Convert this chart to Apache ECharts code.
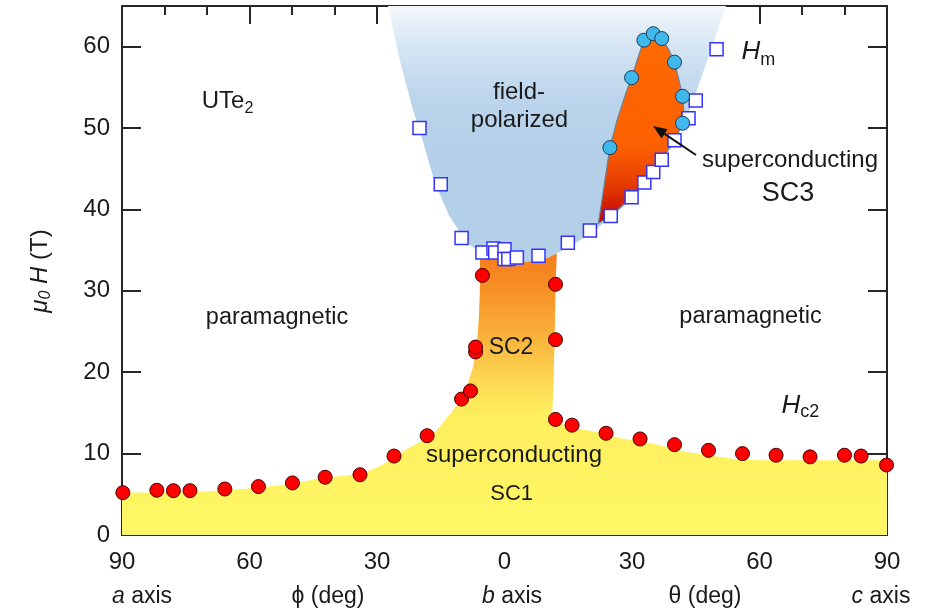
<!DOCTYPE html>
<html>
<head>
<meta charset="utf-8">
<script src="https://cdn.jsdelivr.net/npm/echarts@6/dist/echarts.min.js"></script>
<style>
  html, body { margin: 0; padding: 0; background: #ffffff; }
  #chart { width: 942px; height: 616px; }
</style>
</head>
<body>
<div id="chart"></div>
<script>
// Field angle: negative values = phi (b toward a), positive values = theta (b toward c)

// Upper critical field Hc2 (red circles)
const hc2Angle = [-89.8, -81.8, -77.9, -74.0, -65.8, -57.9, -49.9, -42.2, -34.0, -26.0, -18.2, -10.1, -8.0, -6.8, -6.8, -5.2,
                  12.0, 12.0, 12.0, 15.9, 23.9, 31.9, 40.0, 48.0, 56.0, 63.9, 71.9, 80.0, 83.9, 89.9];
const hc2Field = [5.2, 5.5, 5.45, 5.45, 5.65, 5.95, 6.4, 7.1, 7.4, 9.7, 12.2, 16.7, 17.7, 22.5, 23.1, 31.9,
                  30.8, 24.0, 14.2, 13.5, 12.5, 11.8, 11.1, 10.4, 10.0, 9.8, 9.6, 9.8, 9.7, 8.6];

// Metamagnetic transition Hm (open squares)
const hmAngle = [-20.0, -15.0, -10.1, -5.2, -2.6, -2.2, 0.0, 0.0, 0.9, 2.9, 8.0, 14.9, 20.1, 25.0, 29.9, 32.9,
                 35.0, 37.0, 40.0, 43.3, 45.0, 49.9];
const hmField = [50.0, 43.1, 36.5, 34.7, 35.2, 34.7, 35.1, 33.9, 33.9, 34.1, 34.3, 35.9, 37.4, 39.2, 41.5, 43.3,
                 44.6, 46.1, 48.5, 51.2, 53.4, 59.7];

// Upper boundary of SC3 (cyan circles)
const sc3Angle = [24.8, 29.9, 32.8, 35.0, 37.0, 40.0, 41.9, 41.9];
const sc3Field = [47.6, 56.2, 60.8, 61.6, 61.0, 58.1, 53.9, 50.6];

// Phase regions (outlines)
const scLowAngle = [-90, -90, -80, -72, -60, -50, -43, -34, -30, -26, -23.8, -18, -16, -13.6, -10.4, -9, -7.3, -6.4, -6, -5.8, -5.8,
                    12.3, 12.0, 11.8, 11.5, 11.2, 11.5, 15.8, 23.2, 27.2, 35, 42.9, 48, 54.6, 60, 90, 90];
const scLowField = [0, 5.2, 5.25, 5.3, 5.7, 6.3, 7.0, 7.5, 8.3, 9.4, 10.3, 12.0, 12.8, 14.4, 16.4, 18.0, 20.8, 24, 27, 30, 34.6,
                    34.6, 30, 24, 18, 14.7, 14.0, 13.2, 12.5, 11.9, 11.2, 10.2, 9.8, 9.3, 9.2, 9.2, 0];

const polarizedAngle = [-27.4, -24.5, -21.5, -19.0, -16.4, -13.0, -9.0, -5.0, 0, 5, 10, 15, 20, 25, 30, 35, 40, 42.8, 44.8, 48.5, 52.1];
const polarizedField = [65, 58, 52.2, 48, 43.3, 39.2, 36.0, 34.4, 33.6, 33.5, 34.0, 35.3, 37.0, 39.0, 41.3, 44.3, 48.3, 51.0, 54.0, 59.5, 65];

const sc3RegionAngle = [22.1, 23.4, 24.8, 26.5, 28.5, 29.9, 31.5, 32.8, 35.0, 37.0, 38.5, 40.0, 41.0, 41.9, 42.2, 41.9, 40.5,
                        37.0, 35.0, 32.9, 29.9, 25.0];
const sc3RegionField = [38.3, 42.8, 47.6, 51.0, 54.2, 56.2, 58.8, 60.8, 61.6, 61.0, 59.8, 58.1, 56.0, 53.9, 52.0, 50.6, 49.0,
                        46.1, 44.6, 43.3, 41.5, 39.2];

// Tick labels
const xTickValues = [-90, -60, -30, 0, 30, 60, 90];
const xTickLabels = ['90', '60', '30', '0', '30', '60', '90'];
const yTickValues = [0, 10, 20, 30, 40, 50, 60];
const yTickLabels = ['0', '10', '20', '30', '40', '50', '60'];

const FONT = '"Liberation Sans", Arial, Helvetica, sans-serif';
const INK = '#1a1a1a';
const AXIS = '#262626';

const chart = echarts.init(document.getElementById('chart'), null, { renderer: 'canvas' });
const G = echarts.graphic;

function pairs(xs, ys) { return xs.map((x, i) => [x, ys[i]]); }

function regionSeries(name, xs, ys, fill, stroke) {
  return {
    type: 'custom',
    name: name,
    silent: true,
    animation: false,
    data: [[xs[0], ys[0]]],
    renderItem: function (params, api) {
      const pts = xs.map((x, i) => api.coord([x, ys[i]]));
      return {
        type: 'polygon',
        shape: { points: pts },
        style: { fill: fill, stroke: stroke || null, lineWidth: stroke ? 1.2 : 0 }
      };
    }
  };
}

const scLowFill = new G.LinearGradient(0, 0, 0, 1, [
  { offset: 0.00, color: '#f57c1a' },
  { offset: 0.13, color: '#f79126' },
  { offset: 0.30, color: '#fab33c' },
  { offset: 0.45, color: '#fdd853' },
  { offset: 0.57, color: '#feee5e' },
  { offset: 1.00, color: '#fff866' }
]);
const polarizedFill = new G.LinearGradient(0, 0, 0, 1, [
  { offset: 0.00, color: '#f4f8fc' },
  { offset: 0.16, color: '#d5e5f3' },
  { offset: 0.35, color: '#bdd5ec' },
  { offset: 0.55, color: '#b4d0e9' },
  { offset: 1.00, color: '#b4d0e9' }
]);
const sc3Fill = new G.LinearGradient(0, 0, 0, 1, [
  { offset: 0.00, color: '#ff6a00' },
  { offset: 0.60, color: '#fd6000' },
  { offset: 0.80, color: '#e43a00' },
  { offset: 1.00, color: '#c00000' }
]);

function xLabel(v) { const i = xTickValues.indexOf(v); return i < 0 ? '' : xTickLabels[i]; }
function yLabel(v) { const i = yTickValues.indexOf(v); return i < 0 ? '' : yTickLabels[i]; }

const xBase = {
  type: 'value', min: -90, max: 90, interval: 30,
  axisLine: { show: true, onZero: false, lineStyle: { color: AXIS, width: 2 } },
  axisTick: { show: true, inside: true, length: 18, lineStyle: { color: AXIS, width: 2 } },
  minorTick: { show: true, splitNumber: 3, length: 9, lineStyle: { color: AXIS, width: 2 } },
  splitLine: { show: false },
  minorSplitLine: { show: false }
};
const yBase = {
  type: 'value', min: 0, max: 65, interval: 10,
  axisLine: { show: true, onZero: false, lineStyle: { color: AXIS, width: 2 } },
  axisTick: { show: true, inside: true, length: 19, lineStyle: { color: AXIS, width: 2 } },
  splitLine: { show: false }
};

// Rich-text styles shared by annotations: n = upright, i = italic, s16/m18/c18 = lowered subscripts
const RICH = {
  n: { fontSize: 24, fontFamily: FONT, fill: INK },
  n23: { fontSize: 23, fontFamily: FONT, fill: INK },
  i23: { fontSize: 23, fontFamily: FONT, fill: INK, fontStyle: 'italic' },
  h: { fontSize: 26, fontFamily: FONT, fill: INK, fontStyle: 'italic' },
  s16: { fontSize: 16, fontFamily: FONT, fill: INK, padding: [16, 0, 0, 0] },
  m18: { fontSize: 18, fontFamily: FONT, fill: INK, padding: [17, 0, 0, 0] },
  c18: { fontSize: 18, fontFamily: FONT, fill: INK, padding: [13, 0, 0, 0] }
};

function txt(x, y, text, size, opts) {
  opts = opts || {};
  return {
    type: 'text', x: x, y: y, z: 100, silent: true,
    rotation: opts.rotation || 0,
    style: {
      text: text, fontSize: size, fontFamily: FONT, fill: INK,
      fontStyle: opts.italic ? 'italic' : 'normal',
      align: opts.align || 'center', verticalAlign: 'middle',
      rich: RICH
    }
  };
}

// Arrow pointing into the SC3 pocket
const tail = [696, 155], tip = [653, 126];
const dx = tip[0] - tail[0], dy = tip[1] - tail[1];
const len = Math.hypot(dx, dy), ux = dx / len, uy = dy / len;
const headL = 14, headW = 5.5;
const bx = tip[0] - ux * headL, by = tip[1] - uy * headL;

const option = {
  animation: false,
  backgroundColor: '#ffffff',
  grid: { left: 122, right: 55, top: 6, bottom: 81, containLabel: false, outerBoundsMode: 'none' },
  xAxis: [
    Object.assign({}, xBase, {
      position: 'bottom',
      axisLabel: { show: true, fontSize: 24, fontFamily: FONT, color: INK, margin: 15, formatter: xLabel }
    }),
    Object.assign({}, xBase, { position: 'top', axisLabel: { show: false } })
  ],
  yAxis: [
    Object.assign({}, yBase, {
      position: 'left',
      axisLabel: { show: true, fontSize: 24, fontFamily: FONT, color: INK, margin: 12, formatter: yLabel, showMaxLabel: false }
    }),
    Object.assign({}, yBase, { position: 'right', axisLabel: { show: false } })
  ],
  series: [
    regionSeries('SC1-SC2', scLowAngle, scLowField, scLowFill),
    regionSeries('field-polarized', polarizedAngle, polarizedField, polarizedFill),
    regionSeries('SC3', sc3RegionAngle, sc3RegionField, sc3Fill, '#6d819a'),
    {
      type: 'scatter', name: 'Hm', silent: true,
      symbol: 'rect', symbolSize: 13,
      itemStyle: { color: '#ffffff', borderColor: '#3333ff', borderWidth: 1.5, opacity: 1 },
      data: pairs(hmAngle, hmField)
    },
    {
      type: 'scatter', name: 'SC3 boundary', silent: true,
      symbol: 'circle', symbolSize: 14,
      itemStyle: { color: '#3fb8ec', borderColor: '#1d3a55', borderWidth: 1, opacity: 1 },
      data: pairs(sc3Angle, sc3Field)
    },
    {
      type: 'scatter', name: 'Hc2', silent: true,
      symbol: 'circle', symbolSize: 14,
      itemStyle: { color: '#ff0000', borderColor: '#4a0000', borderWidth: 1, opacity: 1 },
      data: pairs(hc2Angle, hc2Field)
    }
  ],
  graphic: [
    txt(201.7, 101, '{n|UTe}{s16|2}', 24, { align: 'left' }),
    txt(519, 92, 'field-', 24),
    txt(519.5, 120, 'polarized', 24),
    txt(741.5, 52, '{h|H}{m18|m}', 26, { align: 'left' }),
    txt(790, 160, 'superconducting', 24),
    txt(788, 194, 'SC3', 27),
    txt(277, 318, 'paramagnetic', 23.5),
    txt(750.5, 317, 'paramagnetic', 23.5),
    txt(511, 348, 'SC2', 23),
    txt(781.5, 406, '{h|H}{c18|c2}', 26, { align: 'left' }),
    txt(514, 455, 'superconducting', 24),
    txt(511.7, 494, 'SC1', 22),
    // y-axis title
    {
      type: 'text', x: 40, y: 271, z: 100, silent: true, rotation: Math.PI / 2,
      style: {
        text: '{i|μ}{s|0}{n| }{i|H}{n| (T)}',
        fontSize: 24, fontFamily: FONT, fill: INK, align: 'center', verticalAlign: 'middle',
        rich: {
          i: { fontSize: 24, fontFamily: FONT, fontStyle: 'italic', fill: INK },
          s: { fontSize: 16, fontFamily: FONT, fontStyle: 'italic', fill: INK, padding: [11, 0, 0, 0] },
          n: { fontSize: 24, fontFamily: FONT, fill: INK }
        }
      }
    },
    // bottom axis captions
    txt(142, 597, '{i23|a}{n23| axis}', 23),
    txt(328, 597, 'ϕ (deg)', 23),
    txt(512, 597, '{i23|b}{n23| axis}', 23),
    txt(705, 597, 'θ (deg)', 23),
    txt(881, 597, '{i23|c}{n23| axis}', 23),
    // arrow
    {
      type: 'line', z: 100, silent: true,
      shape: { x1: tail[0], y1: tail[1], x2: bx, y2: by },
      style: { stroke: '#111111', lineWidth: 2 }
    },
    {
      type: 'polygon', z: 100, silent: true,
      shape: { points: [tip, [bx - uy * headW, by + ux * headW], [bx + uy * headW, by - ux * headW]] },
      style: { fill: '#111111' }
    }
  ]
};

chart.setOption(option);
</script>
</body>
</html>
